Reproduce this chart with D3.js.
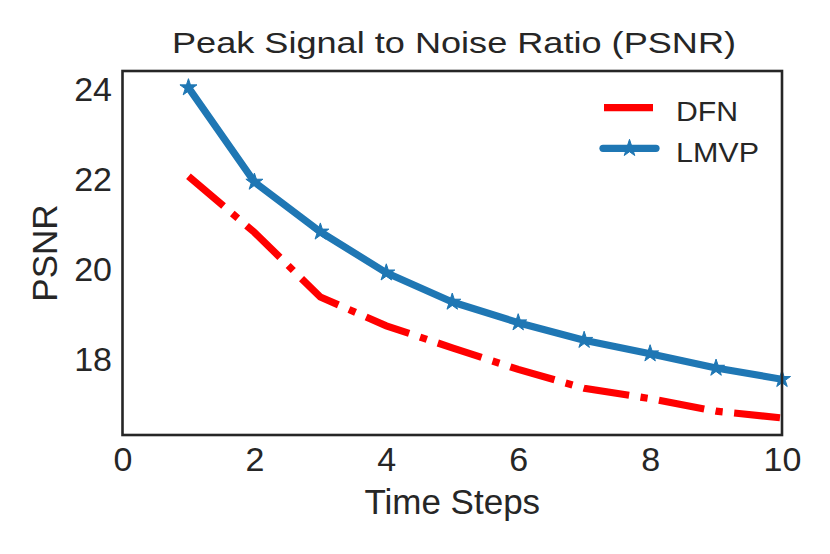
<!DOCTYPE html>
<html lang="en">
<head>
<meta charset="UTF-8">
<title>PSNR</title>
<script src="https://cdnjs.cloudflare.com/ajax/libs/d3/7.8.5/d3.min.js"></script>
<style>
    body { margin: 0; background: #fff; }
    svg text { font-family: "Liberation Sans", Arial, sans-serif; fill: #262626; }
</style>
</head>
<body>
<svg id="chart" width="830" height="554"></svg>
<script>
    // values
    const timeSteps = [1, 2, 3, 4, 5, 6, 7, 8, 9, 10];
    const dfnValues = [22.05, 20.8, 19.36, 18.72, 18.23, 17.75, 17.33, 17.1, 16.82, 16.67];
    const lmvpValues = [24.02, 21.92, 20.81, 19.9, 19.25, 18.79, 18.4, 18.1, 17.78, 17.53];
    const xTickValues = [0, 2, 4, 6, 8, 10];
    const yTickValues = [18, 20, 22, 24];
    const seriesNames = ["DFN", "LMVP"];

    const svg = d3.select("#chart");
    const margin = {left: 122.5, right: 48, top: 71, bottom: 119};
    const plotW = 830 - margin.left - margin.right;
    const plotH = 554 - margin.top - margin.bottom;

    const xScale = d3.scaleLinear().domain([0, 10]).range([0, plotW]);
    const yScale = d3.scaleLinear().domain([16.29, 24.39]).range([plotH, 0]);

    const g = svg.append("g").attr("transform", `translate(${margin.left},${margin.top})`);

    const red = "#ff0000", blue = "#1f77b4";
    const lw = 7.2;
    const dashDot = [6.4 * lw, 1.6 * lw, 1 * lw, 1.6 * lw].join(",");

    const lineGen = d3.line()
        .x((d, i) => xScale(timeSteps[i]))
        .y(d => yScale(d));

    svg.append("defs").append("clipPath").attr("id", "plotClip")
        .append("rect").attr("width", plotW).attr("height", plotH);

    const lines = g.append("g").attr("clip-path", "url(#plotClip)");

    lines.append("path")
        .datum(dfnValues)
        .attr("d", lineGen)
        .attr("fill", "none")
        .attr("stroke", red)
        .attr("stroke-width", lw)
        .attr("stroke-dasharray", dashDot);

    lines.append("path")
        .datum(lmvpValues)
        .attr("d", lineGen)
        .attr("fill", "none")
        .attr("stroke", blue)
        .attr("stroke-width", lw)
        .attr("stroke-linejoin", "round")
        .attr("stroke-linecap", "round");

    const star = d3.symbol().type(d3.symbolStar).size(90);
    g.append("g").selectAll("path")
        .data(lmvpValues)
        .join("path")
        .attr("d", star)
        .attr("transform", (d, i) => `translate(${xScale(timeSteps[i])},${yScale(d)})`)
        .attr("fill", blue)
        .attr("stroke", blue)
        .attr("stroke-width", 1);

    // axes: no tick marks, just labels
    const xAxis = g.append("g")
        .attr("transform", `translate(0,${plotH})`)
        .call(d3.axisBottom(xScale).tickValues(xTickValues).tickSize(0).tickPadding(0));
    xAxis.select(".domain").remove();
    xAxis.selectAll("text")
        .attr("y", 35.5).attr("dy", null)
        .style("font-size", "34px");

    const yAxis = g.append("g")
        .call(d3.axisLeft(yScale).tickValues(yTickValues).tickSize(0).tickPadding(0));
    yAxis.select(".domain").remove();
    yAxis.selectAll("text")
        .attr("x", -10.5).attr("dy", "0.36em")
        .style("font-size", "34px");
    svg.selectAll(".tick text").attr("fill", "#262626");
    svg.selectAll(".tick").attr("font-family", null);

    // frame
    g.append("rect")
        .attr("width", plotW).attr("height", plotH)
        .attr("fill", "none")
        .attr("stroke", "#262626")
        .attr("stroke-width", 2.6);

    // titles
    svg.append("text")
        .attr("x", 454).attr("y", 53)
        .attr("text-anchor", "middle")
        .attr("textLength", 564)
        .attr("lengthAdjust", "spacingAndGlyphs")
        .style("font-size", "29px")
        .text("Peak Signal to Noise Ratio (PSNR)");

    svg.append("text")
        .attr("x", margin.left + plotW / 2).attr("y", 513.5)
        .attr("text-anchor", "middle")
        .style("font-size", "35px")
        .text("Time Steps");

    svg.append("text")
        .attr("transform", `translate(56.5,${margin.top + plotH / 2}) rotate(-90)`)
        .attr("text-anchor", "middle")
        .style("font-size", "35px")
        .text("PSNR");

    // legend
    const legend = svg.append("g");
    const legendRows = [
        {name: seriesNames[0], y: 107.7, color: red, x1: 604, x2: 653, cap: "butt", len: 62},
        {name: seriesNames[1], y: 148.3, color: blue, x1: 603, x2: 656, cap: "round", len: 83}
    ];
    legendRows.forEach((r, i) => {
        legend.append("line")
            .attr("x1", r.x1).attr("x2", r.x2)
            .attr("y1", r.y).attr("y2", r.y)
            .attr("stroke", r.color)
            .attr("stroke-width", lw)
            .attr("stroke-linecap", r.cap);
        if (i === 1) {
            legend.append("path")
                .attr("d", star)
                .attr("transform", `translate(${(r.x1 + r.x2) / 2},${r.y})`)
                .attr("fill", blue).attr("stroke", blue).attr("stroke-width", 1);
        }
        legend.append("text")
            .attr("x", 676).attr("y", r.y + 7.5)
            .attr("dy", "0.2em")
            .attr("textLength", r.len)
            .attr("lengthAdjust", "spacingAndGlyphs")
            .style("font-size", "28.5px")
            .text(r.name);
    });
</script>
</body>
</html>
